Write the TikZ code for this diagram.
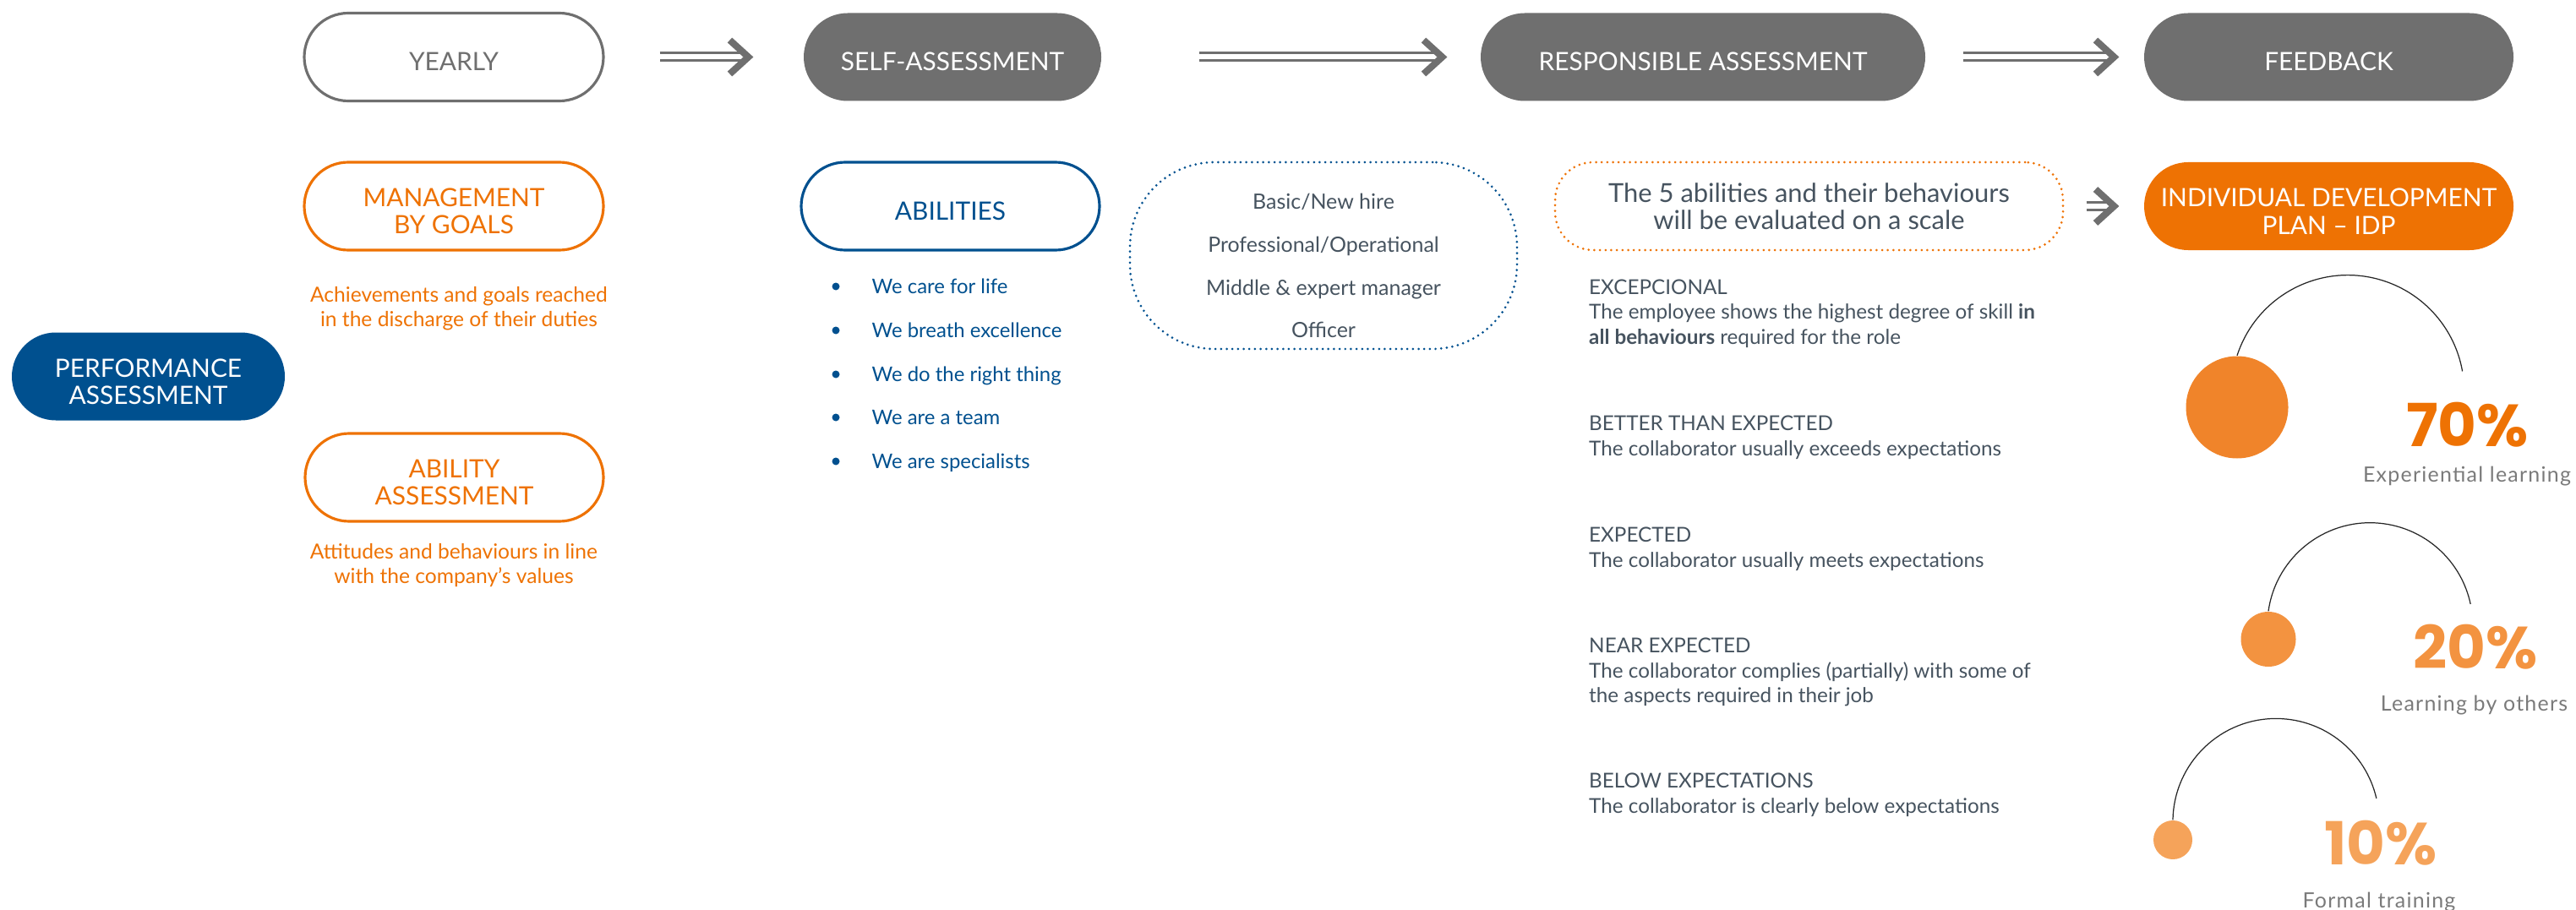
\documentclass[tikz,border=0pt]{standalone}
\usepackage{fontspec}
\setmainfont{Lato}
\newfontfamily\pctfont{Poppins}
\newfontfamily\capfont{Lato}[LetterSpace=5]
\usetikzlibrary{arrows.meta, positioning}

\definecolor{pillgray}{HTML}{6F6F6F}
\definecolor{corpblue}{HTML}{00508F}
\definecolor{corporange}{HTML}{EE7203}
\definecolor{slate}{HTML}{46535F}
\definecolor{labelgray}{HTML}{7A7A7A}
\definecolor{dotA}{HTML}{F0842A}
\definecolor{dotB}{HTML}{F39340}
\definecolor{dotC}{HTML}{F5A35A}

\begin{document}
\begin{tikzpicture}[
    pill/.style={rounded corners=0.52cm, minimum width=#1, minimum height=1.04cm, inner sep=0pt, align=center, line width=0.9pt, font=\fontsize{8.5}{9.2}\selectfont},
    oneline/.style={text height=0.33cm},
    twoline/.style={text height=0.66cm},
    stage/.style={fill=pillgray, text=white},
    dotline/.style={line width=0.85pt, line cap=round, dash pattern=on 0pt off 1.9pt},
    flow/.style={draw=pillgray, line width=0.03cm, double=white, double distance=0.06cm, -{Straight Barb[length=0.22cm, width=0.4cm, line width=0.08cm]}},
    note/.style={text=corporange, font=\fontsize{7}{8.25}\selectfont, align=center, inner sep=0pt, anchor=north},
    item/.style={text=corpblue, font=\fontsize{6.8}{8}\selectfont, inner sep=0pt, anchor=base west},
    bullet/.style={circle, fill=corpblue, minimum size=0.09cm, inner sep=0pt},
    body/.style={text=slate, font=\fontsize{6.9}{8.4}\selectfont, align=left, inner sep=0pt, anchor=north west},
    blob/.style={circle, inner sep=0pt, minimum size=#1},
    arcline/.style={draw=black!85, line width=0.35pt},
    pct/.style={font=\pctfont\bfseries\fontsize{20}{20}\selectfont, inner sep=0pt, anchor=base},
    caption/.style={text=labelgray, font=\capfont\fontsize{7.1}{8}\selectfont, inner sep=0pt, anchor=base}
]
    \useasboundingbox (0,0) rectangle (30.48,-10.77);
    %%% Top row
    \node[pill=3.54cm, oneline, draw=pillgray, text=pillgray] (yearly) at (5.37,-0.675) {YEARLY};
    \node[pill=3.52cm, oneline, stage] (selfass) at (11.27,-0.675) {SELF-ASSESSMENT};
    \node[pill=5.26cm, oneline, stage] (respass) at (20.15,-0.675) {RESPONSIBLE ASSESSMENT};
    \node[pill=4.37cm, oneline, stage] (feedback) at (27.555,-0.675) {FEEDBACK};
    \draw[flow, shorten <=0.65cm, shorten >=0.58cm] (yearly) -- (selfass);
    \draw[flow, shorten <=1.14cm, shorten >=0.38cm] (selfass) -- (respass);
    \draw[flow, shorten <=0.43cm, shorten >=0.28cm] (respass) -- (feedback);
    %
    %%% Second row
    \node[pill=3.54cm, twoline, draw=corporange, text=corporange] (mbg) at (5.37,-2.44) {MANAGEMENT\\BY GOALS};
    \node[pill=3.53cm, oneline, draw=corpblue, text=corpblue] (abilities) at (11.245,-2.44) {ABILITIES};
    \node[draw=corpblue, dotline, rounded corners=1cm, minimum width=4.58cm, minimum height=2.21cm] (levels) at (15.66,-3.025) {};
    \node[text=slate, font=\fontsize{7.1}{14.5}\selectfont, align=center, inner sep=0pt, anchor=north] (levtxt) at (15.66,-2.28) {Basic/New hire\\Professional/Operational\\Middle \& expert manager\\Officer};
    \node[pill=6.01cm, draw=corporange, dotline, rounded corners=0.45cm, text=slate, font=\fontsize{8.8}{9.1}\selectfont] (scalebox) at (21.405,-2.44) {The 5 abilities and their behaviours\\will be evaluated on a scale};
    \node[pill=4.37cm, twoline, fill=corporange, text=white] (idp) at (27.555,-2.44) {INDIVIDUAL DEVELOPMENT\\PLAN -- IDP};
    \draw[flow, shorten <=0.26cm, shorten >=0.28cm] (scalebox) -- (idp);
    %
    %%% Left column
    \node[pill=3.23cm, twoline, fill=corpblue, text=white] (perf) at (1.755,-4.455) {PERFORMANCE\\ASSESSMENT};
    \node[note] (mbgnote) at (5.43,-3.39) {Achievements and goals reached\\in the discharge of their duties};
    \node[pill=3.53cm, twoline, draw=corporange, text=corporange] (abass) at (5.375,-5.65) {ABILITY\\ASSESSMENT};
    \node[note] (abnote) at (5.37,-6.43) {Attitudes and behaviours in line\\with the company’s values};
    %
    %%% Abilities list
    \node[bullet] (b1) at (9.89,-3.39) {};
    \node[item] (v1) at (10.31,-3.475) {We care for life};
    \node[bullet] (b2) at (9.89,-3.91) {};
    \node[item] (v2) at (10.31,-3.995) {We breath excellence};
    \node[bullet] (b3) at (9.89,-4.43) {};
    \node[item] (v3) at (10.31,-4.515) {We do the right thing};
    \node[bullet] (b4) at (9.89,-4.94) {};
    \node[item] (v4) at (10.31,-5.025) {We are a team};
    \node[bullet] (b5) at (9.89,-5.46) {};
    \node[item] (v5) at (10.31,-5.545) {We are specialists};
    %
    %%% Rating scale
    \node[body] (exc) at (18.795,-3.30) {EXCEPCIONAL\\The employee shows the highest degree of skill \textbf{in}\\\textbf{all behaviours} required for the role};
    \node[body] (better) at (18.795,-4.915) {BETTER THAN EXPECTED\\The collaborator usually exceeds expectations};
    \node[body] (expected) at (18.795,-6.235) {EXPECTED\\The collaborator usually meets expectations};
    \node[body] (near) at (18.795,-7.545) {NEAR EXPECTED\\The collaborator complies (partially) with some of\\the aspects required in their job};
    \node[body] (below) at (18.795,-9.145) {BELOW EXPECTATIONS\\The collaborator is clearly below expectations};
    %
    %%% 70-20-10
    \node[blob=1.21cm, fill=dotA] (dot70) at (26.47,-4.82) {};
    \draw[arcline] (dot70.north) arc[start angle=162, end angle=10, radius=1.377cm];
    \node[pct, text=corporange] (p70) at (29.195,-5.28) {70\%};
    \node[caption] (c70) at (29.19,-5.70) {Experiential learning};
    %
    \node[blob=0.65cm, fill=dotB] (dot20) at (26.84,-7.565) {};
    \draw[arcline] (dot20.north) arc[start angle=172, end angle=12, radius=1.215cm];
    \node[pct, text=dotB] (p20) at (29.29,-7.91) {20\%};
    \node[caption] (c20) at (29.275,-8.41) {Learning by others};
    %
    \node[blob=0.46cm, fill=dotC] (dot10) at (25.71,-9.94) {};
    \draw[arcline] (dot10.north) arc[start angle=179, end angle=13, radius=1.22cm];
    \node[pct, text=dotC] (p10) at (28.17,-10.23) {10\%};
    \node[caption] (c10) at (28.15,-10.74) {Formal training};
\end{tikzpicture}
\end{document}
